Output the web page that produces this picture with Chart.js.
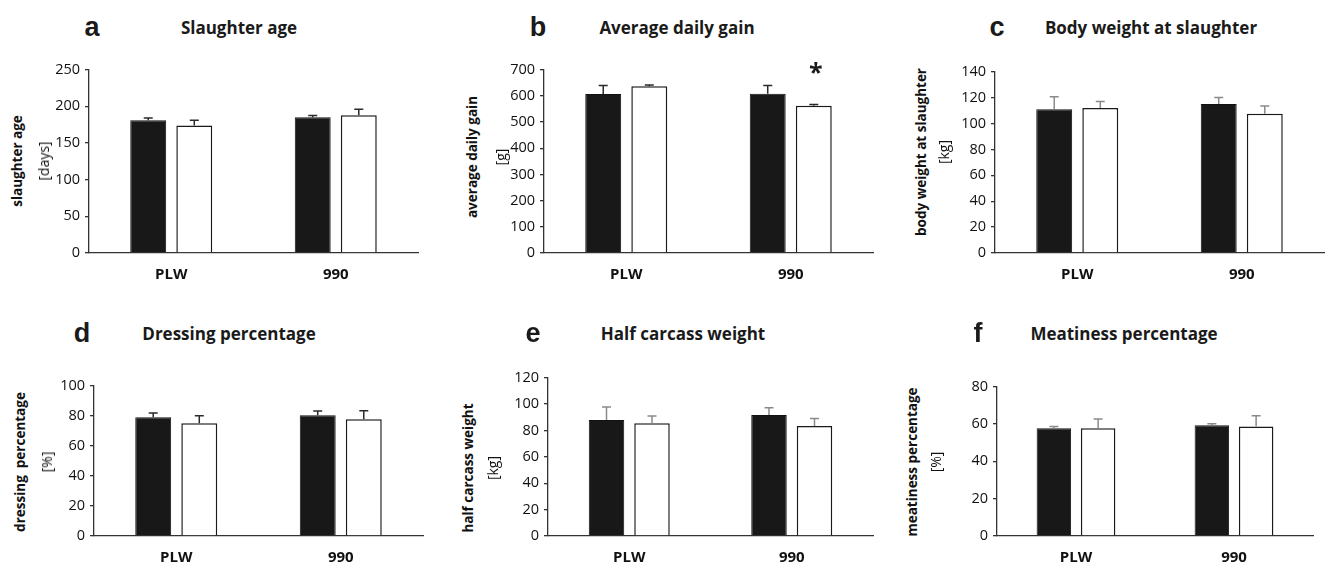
<!DOCTYPE html>
<html>
<head>
<meta charset="utf-8">
<title>Slaughter traits</title>
<script src="https://cdn.jsdelivr.net/npm/chart.js@4/dist/chart.umd.min.js"></script>
<style>
    html, body { margin: 0; padding: 0; background: #fff; overflow: hidden; }
    #figure { position: relative; width: 1325px; height: 569px; color: #1a1a1a; }
    .panel-canvas { position: absolute; }
    .panel-letter {
        position: absolute; transform: translate(-50%, -50%);
        font: bold 27px "Liberation Sans", Arial, sans-serif; line-height: 1;
    }
    .panel-title {
        position: absolute; transform: translate(-50%, -50%); white-space: nowrap;
        font: bold 17px "Open Sans", sans-serif; line-height: 1;
    }
    .axis-title, .axis-unit {
        position: absolute; transform: translate(-50%, -50%) rotate(-90deg); white-space: pre;
        font-family: "Open Sans", sans-serif; line-height: 1; color: #111;
    }
    .axis-title { font-weight: bold; font-size: 13.5px; }
    .axis-unit { font-size: 14px; }
</style>
</head>
<body>
<div id="figure"></div>
<script>
// ═══════════════════════════════════════════════════════════════
// DATA
// ═══════════════════════════════════════════════════════════════

const categories = ['PLW', '990'];
const panelLetters = ['a', 'b', 'c', 'd', 'e', 'f'];
const panelTitles = ['Slaughter age', 'Average daily gain', 'Body weight at slaughter',
    'Dressing percentage', 'Half carcass weight', 'Meatiness percentage'];
const axisTitles = ['slaughter age', 'average daily gain', 'body weight at slaughter',
    'dressing  percentage', 'half carcass weight', 'meatiness percentage'];
const axisUnits = ['[days]', '[g]', '[kg]', '[%]', '[kg]', '[%]'];
const axisMax = [250, 700, 140, 100, 120, 80];
const axisStep = [50, 100, 20, 20, 20, 20];

// black bars (first series) and white bars (second series), mean and SD per category
const blackMeans = [[181, 185], [607, 608], [111, 115], [79, 80.3], [88, 91.7], [57.7, 59.3]];
const blackErrors = [[3, 2.5], [33, 32], [9.6, 5], [2.8, 2.8], [9.7, 5.5], [1, 0.9]];
const whiteMeans = [[174, 188], [637, 562], [112, 107.5], [75, 77.7], [85.5, 83.3], [57.7, 58.7]];
const whiteErrors = [[7, 8], [5, 5], [5, 6], [5, 5.6], [5.5, 5.7], [5, 5.8]];
const whiteMarks = [['', ''], ['', '*'], ['', ''], ['', ''], ['', ''], ['', '']];

// ═══════════════════════════════════════════════════════════════
// LAYOUT
// ═══════════════════════════════════════════════════════════════

const Y_AXIS_W = 44;
const X_AXIS_H = 32;
const PAD_TOP = 10;

// plot area edges and header/label anchors for each panel
const LAYOUT = [
    { left: 89,  top: 66,  bottom: 253, right: 418,  letterX: 92,  titleX: 239,  headY: 27,  yTitleX: 18,  yUnitX: 44,  yMid: 161, err: '#2a2a2a' },
    { left: 544, top: 66,  bottom: 253, right: 873,  letterX: 538, titleX: 677,  headY: 27,  yTitleX: 473, yUnitX: 501, yMid: 157, err: '#2a2a2a' },
    { left: 995, top: 68,  bottom: 253, right: 1324, letterX: 997, titleX: 1151, headY: 27,  yTitleX: 922, yUnitX: 944, yMid: 152, err: '#8a8a8a' },
    { left: 94,  top: 382, bottom: 536, right: 423,  letterX: 82,  titleX: 229,  headY: 333, yTitleX: 21,  yUnitX: 47,  yMid: 462, err: '#2a2a2a' },
    { left: 548, top: 374, bottom: 536, right: 873,  letterX: 533, titleX: 683,  headY: 333, yTitleX: 469, yUnitX: 493, yMid: 468, err: '#8a8a8a' },
    { left: 997, top: 383, bottom: 536, right: 1313, letterX: 978, titleX: 1124, headY: 333, yTitleX: 913, yUnitX: 936, yMid: 462, err: '#8a8a8a' }
];

// ═══════════════════════════════════════════════════════════════
// PLUGINS
// ═══════════════════════════════════════════════════════════════

const errorBarPlugin = {
    id: 'errorBars',
    afterDatasetsDraw(chart, args, opts) {
        const { ctx, scales: { y } } = chart;
        ctx.save();
        ctx.strokeStyle = opts.color;
        ctx.lineWidth = 1.5;
        chart.data.datasets.forEach((ds, di) => {
            const meta = chart.getDatasetMeta(di);
            meta.data.forEach((bar, i) => {
                const top = y.getPixelForValue(ds.data[i] + ds.errors[i]);
                ctx.beginPath();
                ctx.moveTo(bar.x, bar.y);
                ctx.lineTo(bar.x, top);
                ctx.moveTo(bar.x - 4.5, top);
                ctx.lineTo(bar.x + 4.5, top);
                ctx.stroke();

                const mark = ds.marks && ds.marks[i];
                if (mark) {
                    ctx.fillStyle = '#1a1a1a';
                    ctx.font = 'bold 25px "Open Sans", sans-serif';
                    ctx.textAlign = 'center';
                    ctx.textBaseline = 'alphabetic';
                    ctx.fillText(mark, bar.x + 2, top - 24);
                }
            });
        });
        ctx.restore();
    }
};

// ═══════════════════════════════════════════════════════════════
// BUILD PANELS
// ═══════════════════════════════════════════════════════════════

function addText(cls, text, x, y) {
    const el = document.createElement('div');
    el.className = cls;
    el.textContent = text;
    el.style.left = `${x}px`;
    el.style.top = `${y}px`;
    document.getElementById('figure').appendChild(el);
}

function buildPanel(p) {
    const L = LAYOUT[p];
    const fig = document.getElementById('figure');

    const left = L.left - Y_AXIS_W;
    const top = L.top - PAD_TOP;
    const width = L.right - left + 4;
    const height = L.bottom - top + X_AXIS_H;

    const canvas = document.createElement('canvas');
    canvas.className = 'panel-canvas';
    canvas.style.left = `${left}px`;
    canvas.style.top = `${top}px`;
    canvas.style.width = `${width}px`;
    canvas.style.height = `${height}px`;
    canvas.width = width;
    canvas.height = height;
    fig.appendChild(canvas);

    addText('panel-letter', panelLetters[p], L.letterX, L.headY);
    addText('panel-title', panelTitles[p], L.titleX, L.headY);
    addText('axis-title', axisTitles[p], L.yTitleX, L.yMid);
    addText('axis-unit', axisUnits[p], L.yUnitX, L.yMid);

    new Chart(canvas.getContext('2d'), {
        type: 'bar',
        data: {
            labels: categories,
            datasets: [{
                data: blackMeans[p],
                errors: blackErrors[p],
                backgroundColor: '#181818',
                borderColor: '#111',
                borderWidth: 1
            }, {
                data: whiteMeans[p],
                errors: whiteErrors[p],
                marks: whiteMarks[p],
                backgroundColor: '#fff',
                borderColor: '#1a1a1a',
                borderWidth: 1.5
            }]
        },
        options: {
            responsive: false,
            animation: false,
            devicePixelRatio: 1,
            layout: { padding: { top: PAD_TOP, right: 4, left: 0, bottom: 0 } },
            datasets: { bar: { categoryPercentage: 0.56, barPercentage: 0.78 } },
            plugins: {
                legend: { display: false },
                tooltip: { enabled: false },
                errorBars: { color: L.err }
            },
            scales: {
                x: {
                    grid: { display: false, drawTicks: false },
                    border: { display: true, color: '#333', width: 1.3 },
                    ticks: {
                        padding: 13,
                        color: '#111',
                        font: { family: 'Open Sans', size: 15, weight: 'bold' }
                    },
                    afterFit(scale) { scale.height = X_AXIS_H; }
                },
                y: {
                    min: 0,
                    max: axisMax[p],
                    ticks: {
                        stepSize: axisStep[p],
                        padding: 5,
                        color: '#111',
                        font: { family: 'Open Sans', size: 14.5 }
                    },
                    grid: { drawOnChartArea: false, drawTicks: true, tickLength: 4, color: '#333', lineWidth: 1.3 },
                    border: { display: true, color: '#333', width: 1.3 },
                    afterFit(scale) { scale.width = Y_AXIS_W; }
                }
            }
        },
        plugins: [errorBarPlugin]
    });
}

LAYOUT.forEach((_, p) => buildPanel(p));
</script>
</body>
</html>
